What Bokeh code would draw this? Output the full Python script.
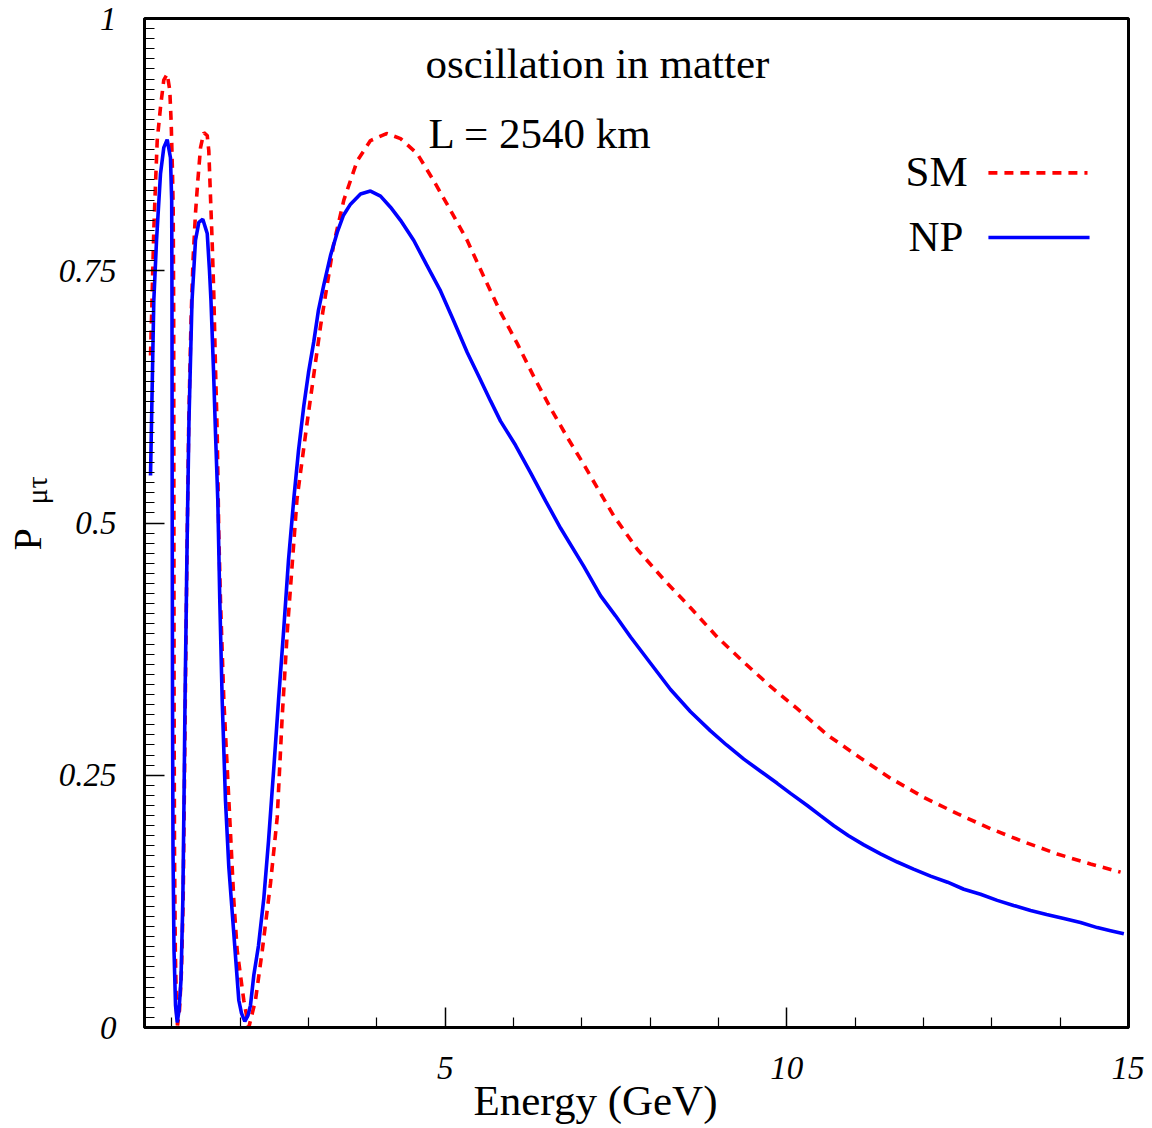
import math
from bokeh.plotting import figure
from bokeh.models import Range1d, FixedTicker, Label, Arrow, Title
from bokeh.embed import file_html
from bokeh.resources import INLINE

# ---------------- data ----------------
series_names = ["SM", "NP"]

energy_sm = [0.688, 0.710, 0.736, 0.761, 0.786, 0.834, 0.882, 0.932, 0.970, 0.991,
             1.010, 1.020, 1.027, 1.030, 1.033, 1.039, 1.051, 1.068, 1.083, 1.112,
             1.141, 1.166, 1.182, 1.197, 1.222, 1.248, 1.281, 1.310, 1.346, 1.380,
             1.420, 1.468, 1.518, 1.541, 1.566, 1.591, 1.614, 1.639, 1.664, 1.687,
             1.712, 1.761, 1.810, 1.859, 1.907, 1.957, 2.053, 2.126, 2.224, 2.323,
             2.444, 2.542, 2.615, 2.693, 2.832, 2.981, 3.176, 3.370, 3.517, 3.713,
             3.907, 4.142, 4.347, 4.591, 4.834, 5.078, 5.323, 5.566, 5.810, 6.054,
             6.297, 6.542, 6.786, 7.029, 7.225, 7.468, 7.811, 8.200, 8.591, 8.981,
             9.371, 9.761, 10.152, 10.591, 11.079, 11.518, 12.005, 12.494, 12.981, 13.469,
             13.957, 14.444, 14.884]
prob_sm = [0.666, 0.721, 0.790, 0.836, 0.879, 0.912, 0.939, 0.945, 0.929, 0.896,
           0.846, 0.810, 0.711, 0.522, 0.324, 0.175, 0.076, 0.017, 0.002, 0.017,
           0.056, 0.126, 0.225, 0.324, 0.473, 0.602, 0.701, 0.760, 0.807, 0.839,
           0.872, 0.887, 0.884, 0.869, 0.823, 0.777, 0.727, 0.654, 0.589, 0.490,
           0.423, 0.324, 0.258, 0.192, 0.126, 0.076, 0.027, 0.000, 0.027, 0.076,
           0.143, 0.208, 0.308, 0.396, 0.524, 0.600, 0.695, 0.777, 0.820, 0.859,
           0.879, 0.886, 0.881, 0.866, 0.839, 0.810, 0.780, 0.744, 0.709, 0.678,
           0.645, 0.614, 0.585, 0.558, 0.535, 0.507, 0.474, 0.444, 0.416, 0.387,
           0.362, 0.338, 0.316, 0.290, 0.267, 0.247, 0.228, 0.212, 0.197, 0.184,
           0.172, 0.162, 0.154]

energy_np = [0.688, 0.736, 0.776, 0.834, 0.882, 0.932, 0.980, 0.998, 1.002, 1.005,
             1.010, 1.017, 1.032, 1.054, 1.079, 1.105, 1.134, 1.161, 1.178, 1.193,
             1.222, 1.251, 1.295, 1.346, 1.395, 1.453, 1.518, 1.551, 1.573, 1.610,
             1.639, 1.673, 1.702, 1.737, 1.785, 1.834, 1.907, 1.980, 2.020, 2.068,
             2.115, 2.151, 2.200, 2.268, 2.346, 2.415, 2.492, 2.561, 2.639, 2.707,
             2.785, 2.854, 2.931, 3.000, 3.078, 3.146, 3.224, 3.322, 3.420, 3.512,
             3.615, 3.761, 3.907, 4.054, 4.200, 4.347, 4.541, 4.727, 4.932, 5.108,
             5.323, 5.488, 5.664, 5.810, 6.030, 6.249, 6.469, 6.688, 7.029, 7.273,
             7.493, 7.713, 8.005, 8.298, 8.591, 8.883, 9.118, 9.371, 9.615, 9.859,
             10.054, 10.299, 10.493, 10.688, 10.903, 11.127, 11.371, 11.616, 11.854, 12.103,
             12.352, 12.590, 12.835, 13.079, 13.318, 13.567, 13.801, 14.054, 14.298, 14.543,
             14.737, 14.932]
prob_np = [0.547, 0.720, 0.780, 0.846, 0.872, 0.880, 0.862, 0.820, 0.720, 0.522,
           0.324, 0.175, 0.076, 0.022, 0.005, 0.017, 0.047, 0.126, 0.225, 0.324,
           0.473, 0.602, 0.720, 0.780, 0.798, 0.801, 0.787, 0.750, 0.720, 0.651,
           0.589, 0.522, 0.423, 0.324, 0.225, 0.159, 0.093, 0.027, 0.014, 0.006,
           0.012, 0.022, 0.052, 0.081, 0.128, 0.185, 0.257, 0.324, 0.396, 0.463,
           0.524, 0.572, 0.616, 0.649, 0.680, 0.711, 0.736, 0.765, 0.788, 0.805,
           0.816, 0.826, 0.829, 0.824, 0.813, 0.800, 0.780, 0.756, 0.730, 0.703,
           0.669, 0.646, 0.621, 0.601, 0.577, 0.550, 0.522, 0.495, 0.457, 0.428,
           0.408, 0.387, 0.361, 0.335, 0.313, 0.294, 0.280, 0.266, 0.254, 0.242,
           0.232, 0.220, 0.210, 0.200, 0.190, 0.181, 0.172, 0.164, 0.157, 0.150,
           0.144, 0.137, 0.132, 0.126, 0.121, 0.116, 0.112, 0.108, 0.104, 0.099,
           0.096, 0.093]

x_major_ticks = [5, 10, 15]
x_minor_ticks = [1, 2, 3, 4, 6, 7, 8, 9, 11, 12, 13, 14]
y_major_ticks = [0, 0.25, 0.5, 0.75, 1]
y_tick_labels = {0: "0", 0.25: "0.25", 0.5: "0.5", 0.75: "0.75", 1: "1"}
y_minor_ticks = [round(i * 0.01, 2) for i in range(1, 100) if i % 25]

# ---------------- figure ----------------
SERIF = "Liberation Serif"

p = figure(width=1144, height=1125,
           x_range=Range1d(0.6, 15), y_range=Range1d(0, 1),
           output_backend="svg", toolbar_location=None,
           min_border_left=144, min_border_right=16,
           min_border_top=18, min_border_bottom=98)
p.xgrid.visible = False
p.ygrid.visible = False
p.background_fill_color = "white"
p.border_fill_color = "white"
p.outline_line_color = "black"
p.outline_line_width = 3

for ax in (p.xaxis[0], p.yaxis[0]):
    ax.axis_line_width = 3
    ax.axis_line_color = "black"
    ax.major_tick_in = 20
    ax.major_tick_out = 0
    ax.minor_tick_in = 10
    ax.minor_tick_out = 0
    ax.major_tick_line_width = 1.5
    ax.minor_tick_line_width = 1.2
    ax.major_tick_line_color = "black"
    ax.minor_tick_line_color = "black"
    ax.major_label_text_font = SERIF
    ax.major_label_text_font_style = "italic"
    ax.major_label_text_font_size = "33px"
    ax.major_label_text_color = "black"

p.xaxis.ticker = FixedTicker(ticks=x_major_ticks, minor_ticks=x_minor_ticks)
p.yaxis.ticker = FixedTicker(ticks=y_major_ticks, minor_ticks=y_minor_ticks)
p.yaxis.major_label_overrides = y_tick_labels
p.xaxis.major_label_standoff = 29
p.yaxis.major_label_standoff = 28

DASH = "9 7"
LW = 3.6

# curves
p.line(energy_sm, prob_sm, line_color="#ff0000", line_width=LW, line_dash=DASH)
p.line(energy_np, prob_np, line_color="#0000ff", line_width=LW)

# annotations inside the frame
def txt(s, x, y, size):
    p.add_layout(Label(x=x, y=y, text=s, text_font=SERIF, text_font_size=size,
                       text_align="left", text_baseline="alphabetic",
                       text_color="black"))

txt("oscillation in matter", 4.712, 0.9555, "43px")
txt("L = 2540 km", 4.756, 0.886, "43px")
txt(series_names[0], 11.737, 0.8485, "43px")
txt(series_names[1], 11.781, 0.784, "43px")

p.add_layout(Arrow(start=None, end=None, x_start=12.95, y_start=0.847,
                   x_end=14.40, y_end=0.847, line_color="#ff0000",
                   line_width=LW, line_dash=DASH))
p.add_layout(Arrow(start=None, end=None, x_start=12.95, y_start=0.783,
                   x_end=14.43, y_end=0.783, line_color="#0000ff",
                   line_width=LW))

# axis titles (side-panel titles, not clipped by the frame)
x_title = Title(text="Energy (GeV)", align="left", offset=329,
                vertical_align="top", standoff=-10,
                text_font=SERIF, text_font_style="normal",
                text_font_size="43px", text_color="black")
p.add_layout(x_title, "below")

sub_title = Title(text="\u03bc\u03c4", align="left", offset=523,
                  vertical_align="bottom", standoff=6,
                  text_font=SERIF, text_font_style="normal",
                  text_font_size="30px", text_color="black")
p.add_layout(sub_title, "left")

p_title = Title(text="P", align="left", offset=477,
                vertical_align="bottom", standoff=-71,
                text_font=SERIF, text_font_style="normal",
                text_font_size="40px", text_color="black")
p.add_layout(p_title, "left")

open("out.html", "w").write(file_html(p, INLINE))
